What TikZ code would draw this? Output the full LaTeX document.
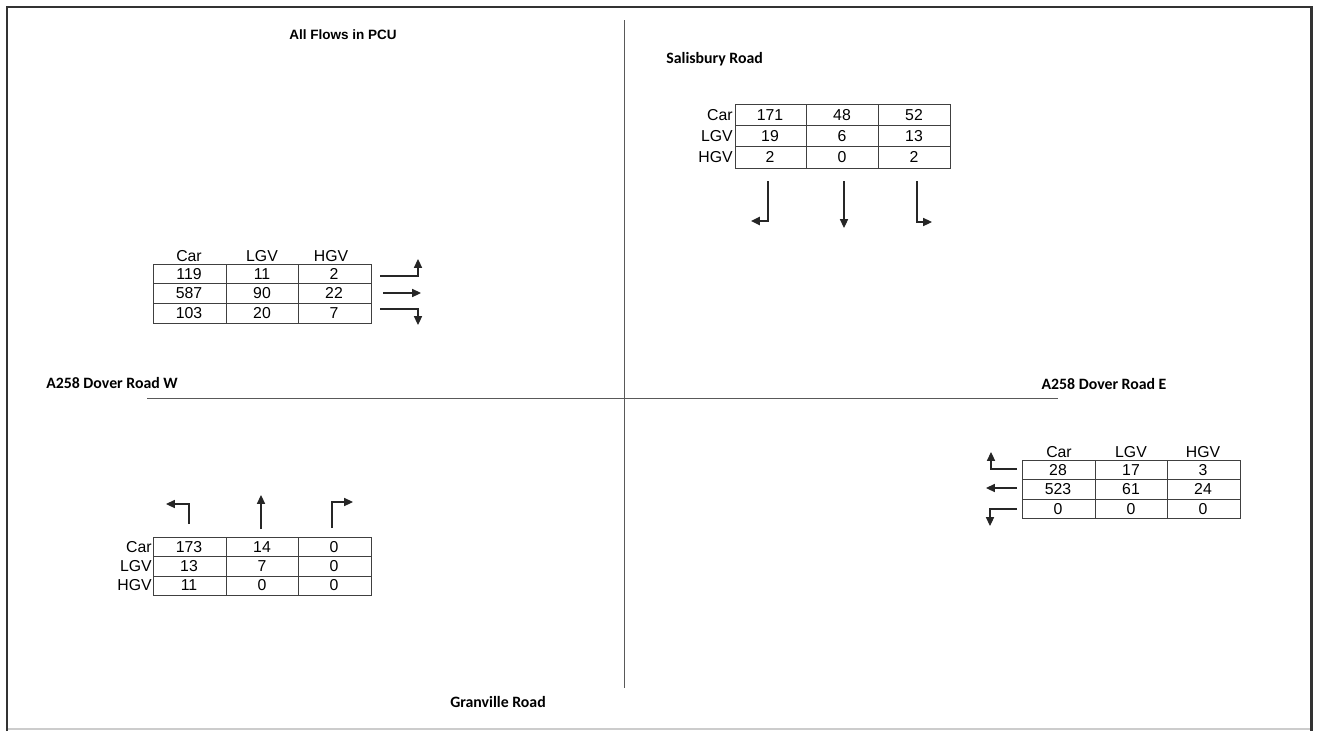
\documentclass[tikz,border=0pt]{standalone}
\usepackage{fontspec}
\setmainfont{Liberation Sans}
\newfontfamily\roadfont{Carlito}
\usetikzlibrary{arrows.meta}

\begin{document}
\begin{tikzpicture}[x=0.02cm,y=-0.02cm,
  tbl/.style={draw=black!75,line width=0.55pt},
  val/.style={inner sep=0pt,font=\fontsize{9}{10}\selectfont},
  rowlab/.style={val,anchor=east},
  mv/.style={draw=black!85,line width=0.6pt,-{Triangle[length=5pt,width=4.6pt]}},
  road/.style={inner sep=0pt,font=\roadfont\fontsize{9}{11}\selectfont\bfseries}]
\useasboundingbox (0,0) rectangle (1317,731);
% frame
\draw[black!20,line width=0.6pt] (7,729) -- (1311,729);
\draw[black!80,line width=1.7pt] (7,731) -- (7,7) -- (1311,7) -- (1311,731);
% roads
\draw[black!65,line width=0.55pt] (624,20) -- (624,688);
\draw[black!65,line width=0.55pt] (147,398) -- (1058,398);
\node[inner sep=0pt,font=\fontsize{7.7}{9}\selectfont\bfseries] (title) at (343,35) {All Flows in PCU};
\node[road,anchor=west] (salis) at (666,59) {Salisbury Road};
\node[road] (doverw) at (112,383) {A258 Dover Road W};
\node[road] (dovere) at (1104,384) {A258 Dover Road E};
\node[road] (granv) at (498,702) {Granville Road};

% Salisbury Road
\draw[tbl] (735,104) rectangle (950,168);
\draw[tbl] (735,125.3) -- (950,125.3) (735,146.7) -- (950,146.7)
  (806,104) -- (806,168) (878,104) -- (878,168);
\foreach \lab/\c/\l/\h [count=\i] in {Car/171/48/52,LGV/19/6/13,HGV/2/0/2} {
  \node[rowlab] (nr\i) at (733,{93.3+21.33*\i}) {\lab};
  \node[val] (nc\i) at (770,{93.3+21.33*\i}) {\c};
  \node[val] (nl\i) at (842,{93.3+21.33*\i}) {\l};
  \node[val] (nh\i) at (914,{93.3+21.33*\i}) {\h};
}
\draw[mv,line width=1.1pt] (768,181) -- (768,221) -- (751,221);
\draw[mv] (844,181) -- (844,228);
\draw[mv] (917,181) -- (917,222) -- (932,222);

% A258 Dover Road W
\draw[tbl] (153,264) rectangle (371,323);
\draw[tbl] (153,283.5) -- (371,283.5) (153,303) -- (371,303)
  (226,264) -- (226,323) (298,264) -- (298,323);
\node[val] (wcar) at (189,256) {Car};
\node[val] (wlgv) at (262,256) {LGV};
\node[val] (whgv) at (331,256) {HGV};
\foreach \c/\l/\h [count=\i] in {119/11/2,587/90/22,103/20/7} {
  \node[val] (wc\i) at (189,{254+19.6*\i}) {\c};
  \node[val] (wl\i) at (262,{254+19.6*\i}) {\l};
  \node[val] (wh\i) at (334,{254+19.6*\i}) {\h};
}
\draw[mv] (380,276) -- (418,276) -- (418,259);
\draw[mv] (383,293) -- (421,293);
\draw[mv] (380,309) -- (418,309) -- (418,325);

% A258 Dover Road E
\draw[tbl] (1022,460) rectangle (1240,518);
\draw[tbl] (1022,479.5) -- (1240,479.5) (1022,499) -- (1240,499)
  (1095,460) -- (1095,518) (1167,460) -- (1167,518);
\node[val] (ecar) at (1059,452) {Car};
\node[val] (elgv) at (1131,452) {LGV};
\node[val] (ehgv) at (1203,452) {HGV};
\foreach \c/\l/\h [count=\i] in {28/17/3,523/61/24,0/0/0} {
  \node[val] (ec\i) at (1058,{450.2+19.5*\i}) {\c};
  \node[val] (el\i) at (1131,{450.2+19.5*\i}) {\l};
  \node[val] (eh\i) at (1203,{450.2+19.5*\i}) {\h};
}
\draw[mv] (1017,469) -- (991,469) -- (991,452);
\draw[mv] (1017,488) -- (986,488);
\draw[mv] (1017,509) -- (990,509) -- (990,526);

% Granville Road
\draw[tbl] (153,537) rectangle (371,595);
\draw[tbl] (153,556.5) -- (371,556.5) (153,576) -- (371,576)
  (226,537) -- (226,595) (298,537) -- (298,595);
\foreach \lab/\c/\l/\h [count=\i] in {Car/173/14/0,LGV/13/7/0,HGV/11/0/0} {
  \node[rowlab] (sr\i) at (152,{527.5+19.3*\i}) {\lab};
  \node[val] (sc\i) at (189,{527.5+19.3*\i}) {\c};
  \node[val] (sl\i) at (262,{527.5+19.3*\i}) {\l};
  \node[val] (sh\i) at (334,{527.5+19.3*\i}) {\h};
}
\draw[mv] (189,524) -- (189,504) -- (166,504);
\draw[mv] (261,529) -- (261,495);
\draw[mv] (332,528) -- (332,502) -- (353,502);
\end{tikzpicture}
\end{document}
